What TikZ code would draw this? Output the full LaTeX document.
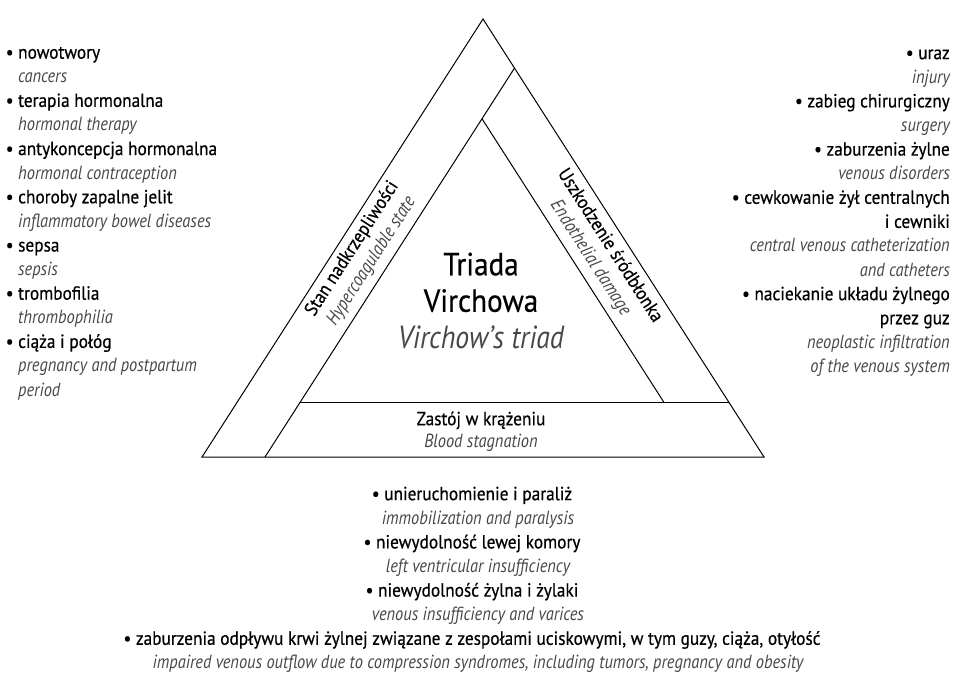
\documentclass[tikz,border=0pt]{standalone}
\usepackage{fontspec}
\setmainfont{PT Sans}[UprightFeatures={FakeStretch=0.91,FakeBold=0.5},
  ItalicFeatures={FakeStretch=0.865}]
\usetikzlibrary{calc}
\definecolor{engray}{gray}{0.28}
\newcommand{\en}[1]{{\itshape\color{engray}#1}}
\newcommand{\pl}[1]{\llap{\textbullet\ }#1}

\begin{document}
\begin{tikzpicture}[x=1pt,y=-1pt,
  txt/.style={inner sep=0pt,font=\fontsize{19}{24.1}\selectfont},
  band/.style={line width=1pt}]
  \useasboundingbox (0,0) rectangle (955,673);
  \coordinate (top) at (483,19);
  \coordinate (bl)  at (202,457);
  \coordinate (br)  at (764,457);
  \coordinate (li)  at (265,457);
  \coordinate (lu)  at ($(li)+(281,-438)$);
  \coordinate (ri)  at ($(br)+(-65,0)$);
  \coordinate (ru)  at ($(top)+(-65,0)$);
  \coordinate (sl)  at (0,402);
  \coordinate (sr)  at (955,402);
  \coordinate (lt)  at (intersection of li--lu and top--br);
  \coordinate (rt)  at (intersection of ri--ru and li--lu);
  \coordinate (rb)  at (intersection of ri--ru and sl--sr);
  \coordinate (sa)  at (intersection of li--lu and sl--sr);
  \coordinate (sb)  at (intersection of top--br and sl--sr);
  \draw[band] (top) -- (bl) -- (br) -- cycle;
  \draw[band] (li) -- (lt);
  \draw[band] (rt) -- (rb);
  \draw[band] (sa) -- (sb);

  \node[txt,anchor=north west,align=left] (hyper) at (18,41.6)
    {\strut\pl{nowotwory}\\ \en{cancers}\\
     \pl{terapia hormonalna}\\ \en{hormonal therapy}\\
     \pl{antykoncepcja hormonalna}\\ \en{hormonal contraception}\\
     \pl{choroby zapalne jelit}\\ \en{inflammatory bowel diseases}\\
     \pl{sepsa}\\ \en{sepsis}\\
     \pl{trombofilia}\\ \en{thrombophilia}\\
     \pl{ciąża i połóg}\\ \en{pregnancy and postpartum}\\ \en{period}};
  \node[txt,anchor=north east,align=right] (endo) at (950,42.1)
    {\strut\textbullet\ uraz\\ \en{injury}\\
     \textbullet\ zabieg chirurgiczny\\ \en{surgery}\\
     \textbullet\ zaburzenia żylne\\ \en{venous disorders}\\
     \textbullet\ cewkowanie żył centralnych\\ i cewniki\\
     \en{central venous catheterization}\\ \en{and catheters}\\
     \textbullet\ naciekanie układu żylnego\\ przez guz\\
     \en{neoplastic infiltration}\\ \en{of the venous system}};
  \node[txt,anchor=north,align=center] (stasis) at (472,483.1)
    {\strut\textbullet\ unieruchomienie i paraliż\\
     \hspace*{12pt}\en{immobilization and paralysis}\\
     \textbullet\ niewydolność lewej komory\\
     \hspace*{12pt}\en{left ventricular insufficiency}\\
     \textbullet\ niewydolność żylna i żylaki\\
     \hspace*{12pt}\en{venous insufficiency and varices}\\
     \textbullet\ zaburzenia odpływu krwi żylnej związane z zespołami uciskowymi, w tym guzy, ciąża, otyłość\\
     \hspace*{12pt}\en{impaired venous outflow due to compression syndromes, including tumors, pregnancy and obesity}};

  \node[inner sep=0pt,anchor=north,align=center,font=\fontsize{32}{36.5}\selectfont] (triad) at (481,249.5)
    {\strut Triada\\ Virchowa\\ \en{Virchow’s triad}};
  \node[txt,anchor=north,align=center,font=\fontsize{19}{22}\selectfont] (stag) at (481,409.6)
    {\strut Zastój w krążeniu\\ \en{Blood stagnation}};
  \node[txt,align=center,rotate=57.26,font=\fontsize{19}{23}\selectfont] (hyplab) at (362,255)
    {Stan nadkrzepliwości\\ \en{Hypercoagulable state}};
  \node[txt,align=center,rotate=-57.26,font=\fontsize{19}{23}\selectfont] (endlab) at (600,252)
    {Uszkodzenie śródbłonka\\ \en{Endothelial damage}};
\end{tikzpicture}
\end{document}
